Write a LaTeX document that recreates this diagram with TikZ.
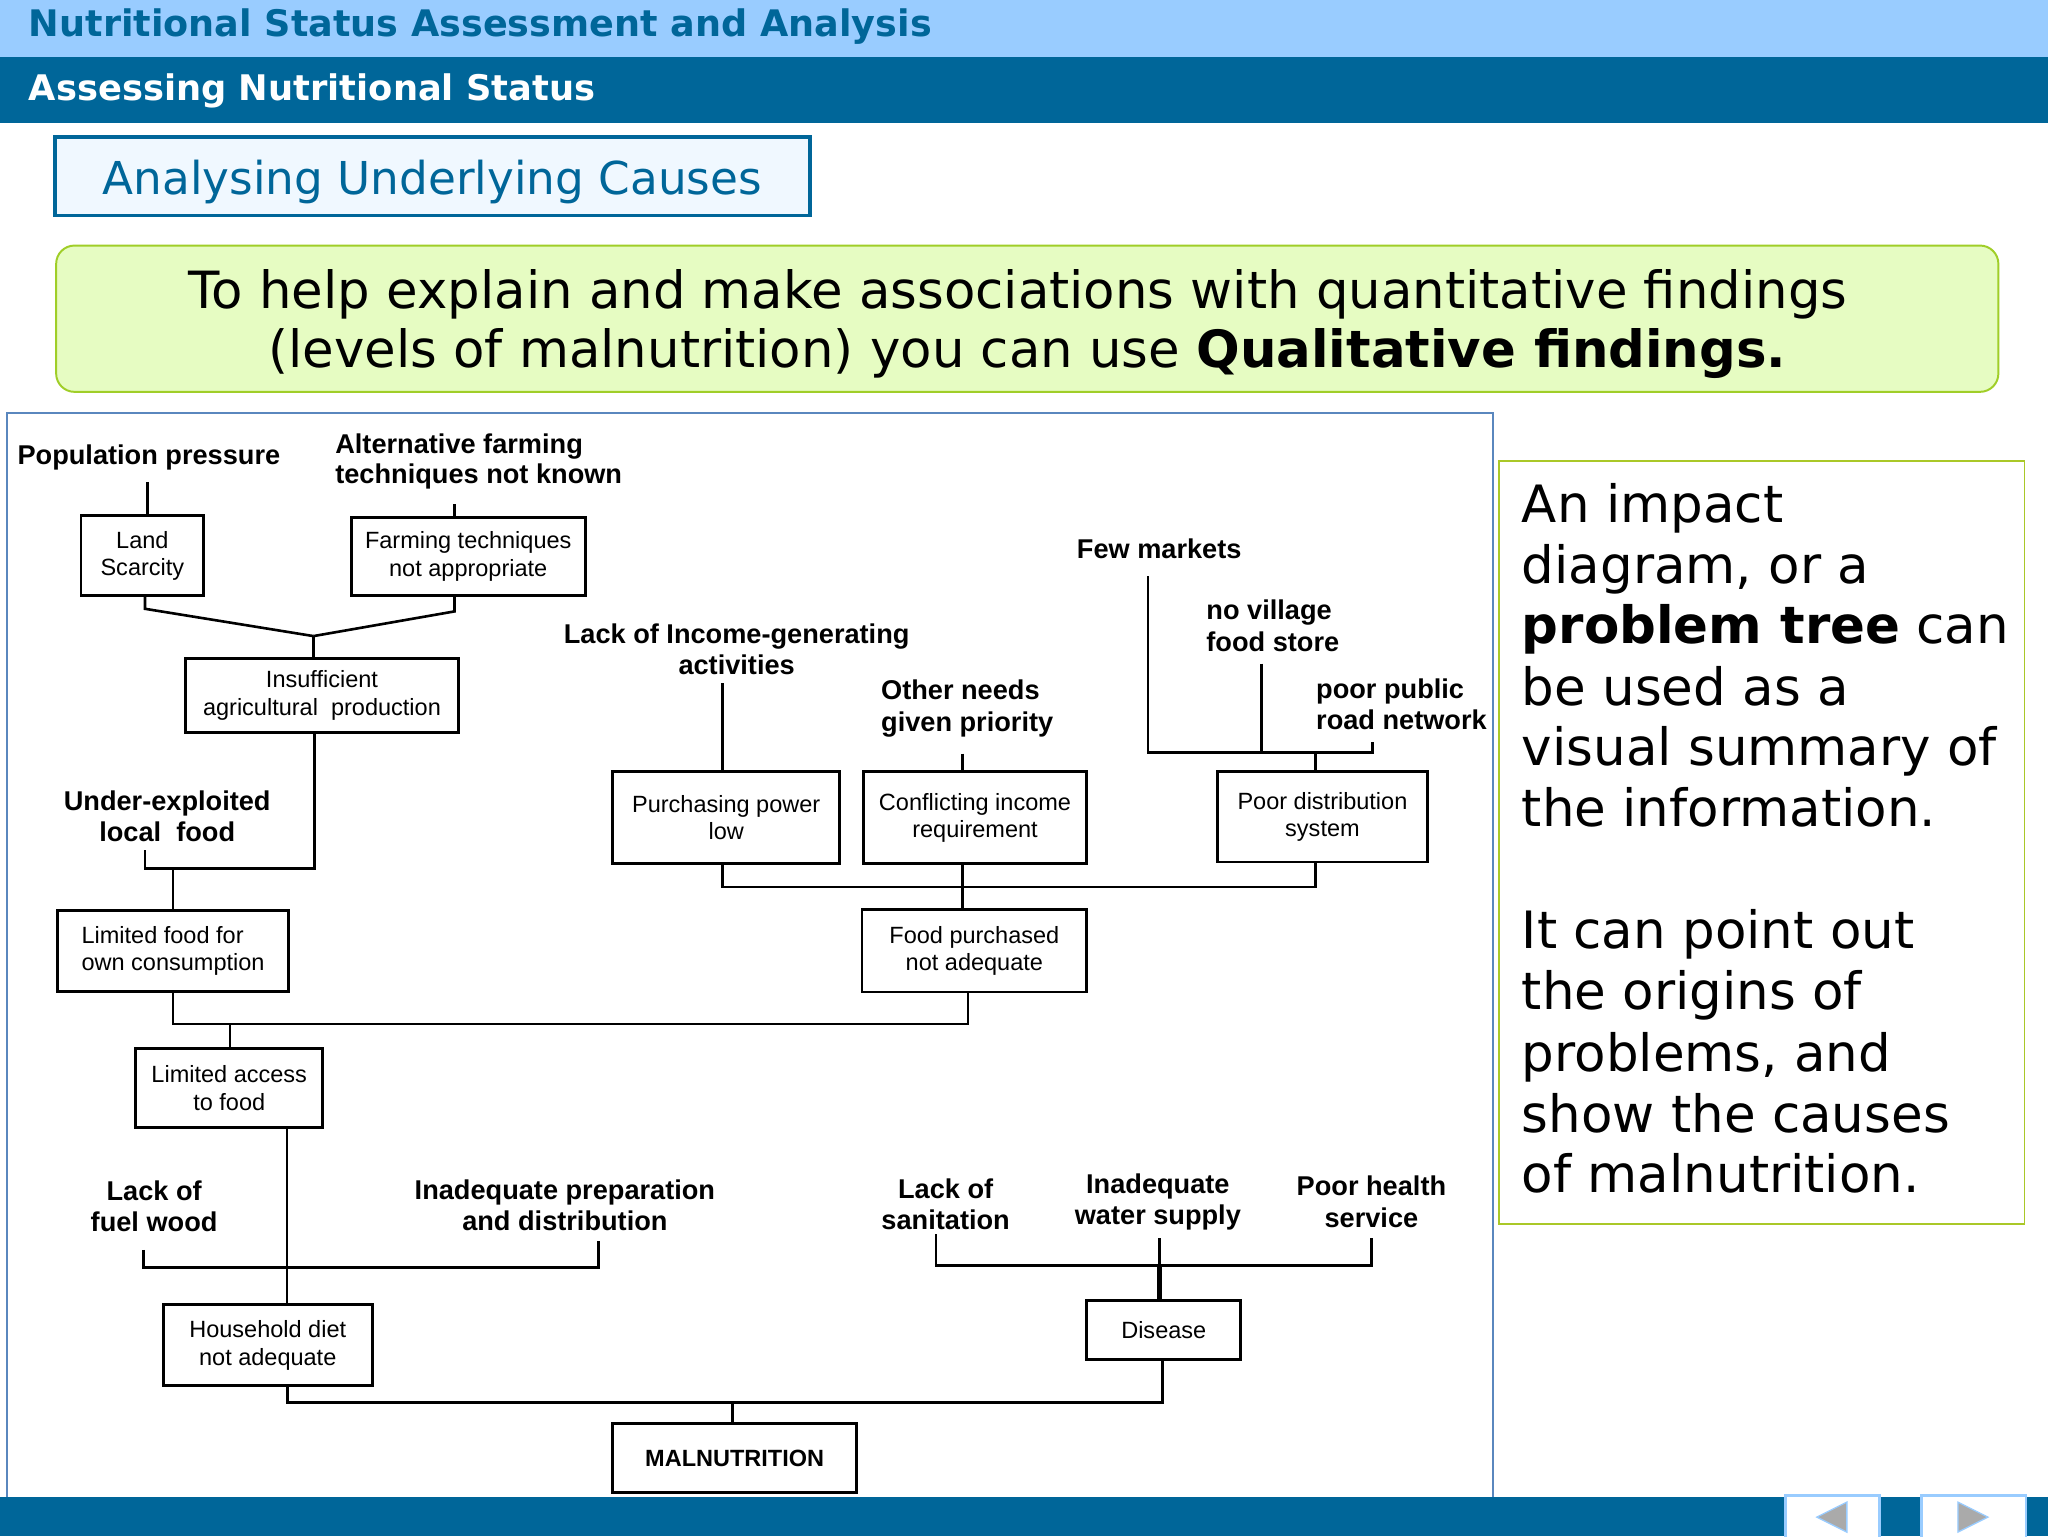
\documentclass[tikz,border=0pt]{standalone}
\usepackage{fontspec}
\newfontfamily\slidefont{DejaVu Sans}
\newfontfamily\diagfont{Liberation Sans}
\usetikzlibrary{calc}
\definecolor{dkblue}{RGB}{0,102,153}
\definecolor{ltblue}{RGB}{153,204,255}
\definecolor{titlefill}{RGB}{240,248,255}
\definecolor{greenfill}{RGB}{230,252,194}
\definecolor{greenline}{RGB}{160,206,40}
\definecolor{rightline}{RGB}{170,200,40}
\definecolor{framecol}{RGB}{90,135,190}
\definecolor{btngray}{RGB}{170,170,170}
\begin{document}
\begin{tikzpicture}[x=1pt,y=-1pt,
 box/.style={draw, line width=2.2pt, inner sep=0pt, align=center, font=\diagfont\fontsize{18}{21}\selectfont},
 lbl/.style={inner sep=0pt, align=center, font=\diagfont\bfseries\fontsize{20.8}{24}\selectfont},
 conn/.style={line width=2pt},
 rtext/.style={anchor=base west, inner sep=0pt, font=\slidefont\fontsize{39.4}{46}\selectfont},
 gtext/.style={anchor=base, inner sep=0pt, font=\slidefont\fontsize{39.3}{46}\selectfont},
]
\useasboundingbox (0,0) rectangle (1568,1176);
\fill[white] (0,0) rectangle (1568,1176);
% header bands
\fill[ltblue] (0,0) rectangle (1568,44);
\fill[dkblue] (0,44) rectangle (1568,94);
\node[anchor=base west, inner sep=0pt, text=dkblue, font=\slidefont\bfseries\fontsize{28}{32}\selectfont] (hdr1) at (22,28) {Nutritional Status Assessment and Analysis};
\node[anchor=base west, inner sep=0pt, text=white, font=\slidefont\bfseries\fontsize{27}{32}\selectfont] (hdr2) at (22,77) {Assessing Nutritional Status};
% title box
\node[draw=dkblue, line width=3pt, fill=titlefill, minimum width=578pt, minimum height=60pt, inner sep=0pt] (tbox) at (331,135) {};
\node[anchor=base, inner sep=0pt, text=dkblue, font=\slidefont\fontsize{34.7}{40}\selectfont] (ttext) at (331,149) {Analysing Underlying Causes};
% green box
\node[draw=greenline, line width=1.5pt, fill=greenfill, rounded corners=14pt, minimum width=1487pt, minimum height=112pt, inner sep=0pt] (gbox) at (786.5,244) {};
\node[gtext] (g1) at (779.5,236) {To help explain and make associations with quantitative findings};
\node[gtext] (g2) at (786.5,281) {(levels of malnutrition) you can use \textbf{Qualitative findings.}};
% diagram frame
\node[draw=framecol, line width=1.5pt, fill=white, minimum width=1138pt, minimum height=834pt, inner sep=0pt] (frame) at (574,733) {};
% right text box
\node[draw=rightline, line width=1.5pt, minimum width=402pt, minimum height=584pt, inner sep=0pt] (rbox) at (1349,645) {};
\node[rtext] (r1) at (1165,399.7) {An impact};
\node[rtext] (r2) at (1165,446.4) {diagram, or a};
\node[rtext] (r3) at (1165,493) {\textbf{problem tree} can};
\node[rtext] (r4) at (1165,540) {be used as a};
\node[rtext] (r5) at (1165,586) {visual summary of};
\node[rtext] (r6) at (1165,633) {the information.};
\node[rtext] (r7) at (1165,726.5) {It can point out};
\node[rtext] (r8) at (1165,773) {the origins of};
\node[rtext] (r9) at (1165,820) {problems, and};
\node[rtext] (r10) at (1165,867) {show the causes};
\node[rtext] (r11) at (1165,913) {of malnutrition.};
% bottom bar
\fill[dkblue] (0,1146) rectangle (1568,1176);
\node[draw=ltblue, line width=2pt, fill=white, minimum width=72pt, minimum height=34pt, inner sep=0pt] (btnL) at (1403,1162) {};
\node[draw=ltblue, line width=2pt, fill=white, minimum width=80pt, minimum height=34pt, inner sep=0pt] (btnR) at (1511,1162) {};
\filldraw[fill=btngray, draw=ltblue, line width=1pt] (1391,1161.5) -- (1414,1150) -- (1414,1173) -- cycle;
\filldraw[fill=btngray, draw=ltblue, line width=1pt] (1522,1161.5) -- (1499,1150) -- (1499,1173) -- cycle;
% boxes
\node[box, minimum width=94pt, minimum height=61pt] (land) at (109,425.5) {Land\\Scarcity};
\node[box, minimum width=179pt, minimum height=60pt] (farm) at (358.5,426) {Farming techniques\\not appropriate};
\node[box, minimum width=209pt, minimum height=57pt] (insuf) at (246.5,532.5) {Insufficient\\agricultural\ \ production};
\node[box, minimum width=174pt, minimum height=70pt] (purch) at (556,626) {Purchasing power\\low};
\node[box, minimum width=171pt, minimum height=70pt] (confl) at (746.5,626) {Conflicting income\\requirement};
\node[box, minimum width=161pt, minimum height=69pt] (dist) at (1012.5,625.5) {Poor distribution\\system};
\node[box, align=left, minimum width=177pt, minimum height=62pt] (limfood) at (132.5,728) {Limited food for\\own consumption};
\node[box, minimum width=172pt, minimum height=63pt] (foodpur) at (746,728) {Food purchased\\not adequate};
\node[box, minimum width=143pt, minimum height=60pt] (limacc) at (175.5,833) {Limited access\\to food};
\node[box, minimum width=160pt, minimum height=62pt] (house) at (205,1030) {Household diet\\not adequate};
\node[box, minimum width=118pt, minimum height=45pt] (disease) at (891,1018.5) {Disease};
\node[box, minimum width=187pt, minimum height=53pt, font=\diagfont\bfseries\fontsize{18}{21}\selectfont] (maln) at (562.5,1116.5) {MALNUTRITION};
% labels
\node[lbl] (pop) at (114,350.5) {Population pressure};
\node[lbl, align=left, font=\diagfont\bfseries\fontsize{20.8}{23}\selectfont] (alt) at (366.5,353) {Alternative farming\\techniques not known};
\node[lbl] (under) at (128,625) {Under-exploited\\local\ \ food};
\node[lbl] (lackinc) at (564,497) {Lack of Income-generating\\activities};
\node[lbl, align=left] (other) at (740.5,542.5) {Other needs\\given priority};
\node[lbl] (few) at (887.5,420) {Few markets};
\node[lbl, align=left] (novil) at (974.5,479) {no village\\food store};
\node[lbl, align=left] (poorpub) at (1073,539) {poor public\\road network};
\node[lbl] (fuel) at (118,923.5) {Lack of\\fuel wood};
\node[lbl] (prep) at (432.5,923) {Inadequate preparation\\and distribution};
\node[lbl] (sanit) at (724,922) {Lack of\\sanitation};
\node[lbl] (water) at (886.5,920) {Inadequate\\water supply};
\node[lbl] (health) at (1050,920) {Poor health\\service};
% junction coordinates
\coordinate (popfoot) at (113,369);
\coordinate (altfoot) at (348,386);
\coordinate (jA) at (240,487);
\coordinate (underfoot) at (111,651);
\coordinate (jB) at (132.5,665);
\coordinate (lackfoot) at (553,523);
\coordinate (otherfoot) at (737,577);
\coordinate (fewfoot) at (879,441);
\coordinate (novilfoot) at (966,508);
\coordinate (poorfoot) at (1051,568);
\coordinate (jC) at (1007,576);
\coordinate (jD) at (737,679);
\coordinate (jE) at (176,784);
\coordinate (fuelfoot) at (110,957);
\coordinate (prepfoot) at (458,950);
\coordinate (jF) at (220,970.5);
\coordinate (sanfoot) at (716.5,945);
\coordinate (waterfoot) at (887.5,948);
\coordinate (healthfoot) at (1050,948);
\coordinate (jG) at (887.5,969);
\coordinate (jH) at (561,1074);
% connectors
\draw[conn] (popfoot) -- (popfoot |- land.north);
\draw[conn] (altfoot) -- (altfoot |- farm.north);
\draw[conn] ([xshift=2pt]land.south) -- ++(0,9) -- (jA);
\draw[conn] ([xshift=-10.5pt]farm.south) -- ++(0,11) -- (jA);
\draw[conn] (jA) -- (jA |- insuf.north);
\draw[conn] ([xshift=-5.5pt]insuf.south) |- (underfoot |- jB) -- (underfoot);
\draw[conn] (jB) -- (limfood.north);
\draw[conn] (lackfoot) -- (lackfoot |- purch.north);
\draw[conn] (otherfoot) -- (otherfoot |- confl.north);
\draw[conn] (fewfoot) |- (poorfoot |- jC) -- (poorfoot);
\draw[conn] (novilfoot) -- (novilfoot |- jC);
\draw[conn] (jC) -- (jC |- dist.north);
\draw[conn] (lackfoot |- purch.south) |- (jC |- jD) -- (jC |- dist.south);
\draw[conn] (jD |- confl.south) -- (jD |- foodpur.north);
\draw[conn] ([xshift=-5pt]foodpur.south) |- (jB |- jE) -- (jB |- limfood.south);
\draw[conn] (jE) -- (jE |- limacc.north);
\draw[line width=1.6pt] (jF |- limacc.south) -- (jF |- house.north);
\draw[conn] (fuelfoot) |- (prepfoot |- jF) -- (prepfoot);
\draw[conn] (sanfoot) |- (healthfoot |- jG) -- (healthfoot);
\draw[conn] (waterfoot) -- (jG);
\draw[line width=4pt] (jG) -- (jG |- disease.north);
\draw[conn] (jF |- house.south) |- ([xshift=-1pt]disease.south |- jH) -- ([xshift=-1pt]disease.south);
\draw[conn] (jH) -- (jH |- maln.north);
\end{tikzpicture}
\end{document}
